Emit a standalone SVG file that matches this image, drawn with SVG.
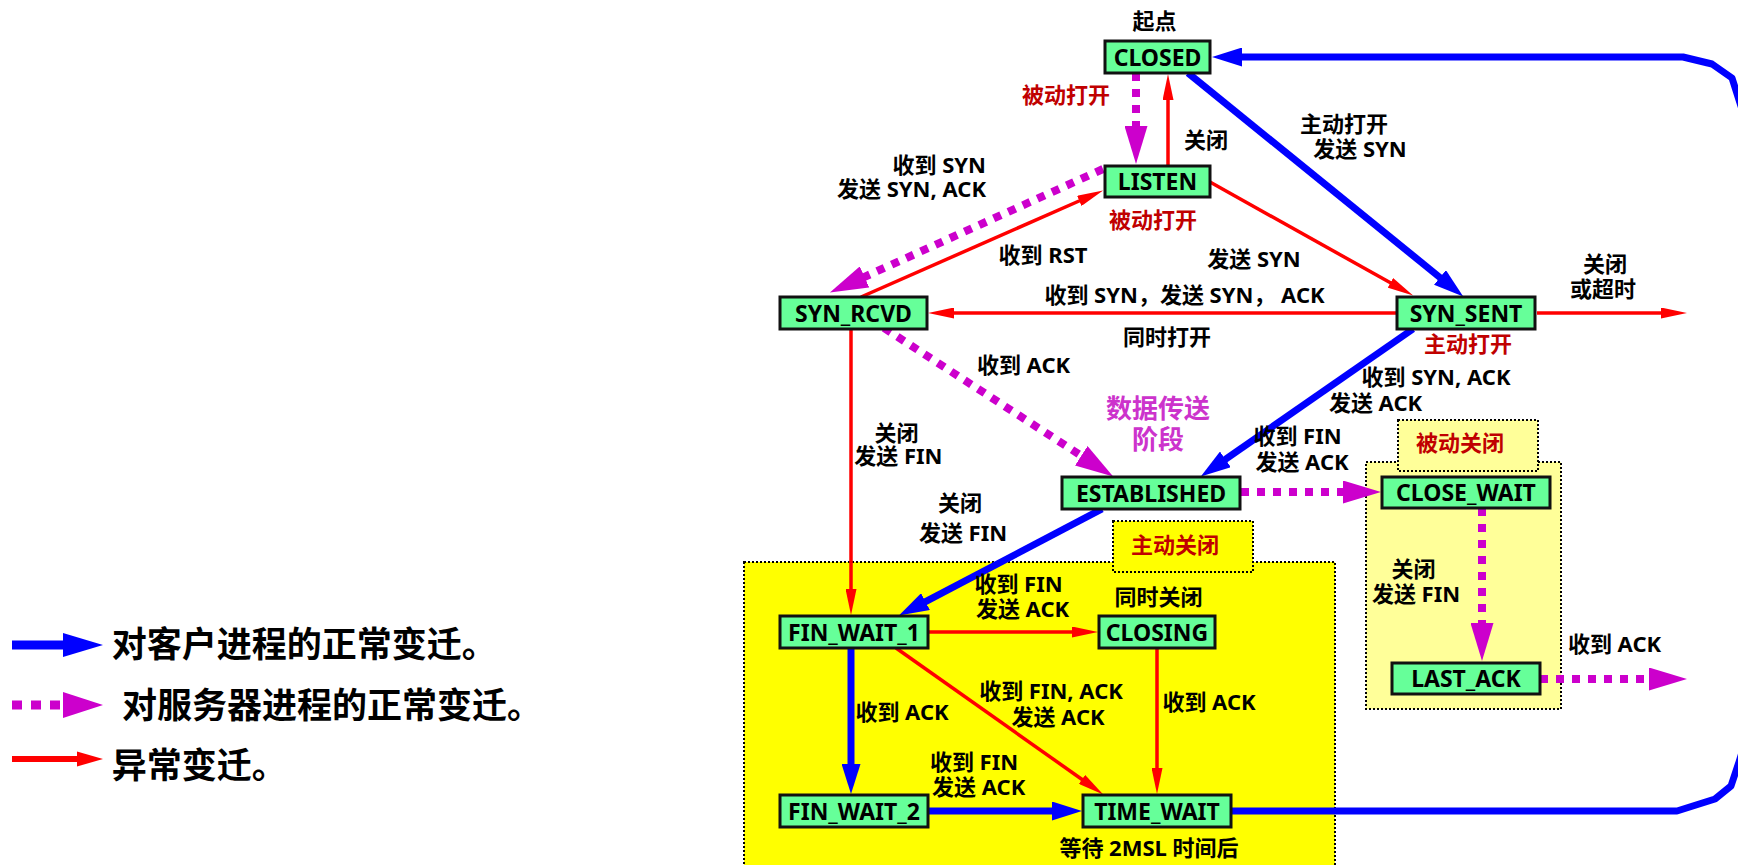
<svg xmlns="http://www.w3.org/2000/svg" width="1738" height="865" viewBox="0 0 1738 865">
<style>
.node rect{fill:#66FF99;stroke:#111;stroke-width:3}
.node text{font-family:"Noto Sans","Noto Sans CJK SC",sans-serif;font-weight:bold;font-size:23px;fill:#000;text-anchor:middle}
.lbl{font-family:"Noto Sans","Noto Sans CJK SC",sans-serif;font-weight:bold;font-size:22px;fill:#000;text-anchor:middle}
.end{text-anchor:end}
.red{fill:#C00000}
.mag{fill:#CC33CC;font-size:26px}
.leg{font-family:"Noto Sans","Noto Sans CJK SC",sans-serif;font-weight:bold;font-size:35px;fill:#000}
.region{stroke:#000;stroke-width:2;stroke-dasharray:2 2}
.blue{fill:none;stroke:#0000FF;stroke-width:7;marker-end:url(#ah-blue)}
.magl{fill:none;stroke:#CC00CC;stroke-width:8;stroke-dasharray:8 8;marker-end:url(#ah-mag)}
.redl{fill:none;stroke:#FF0000;stroke-width:3.5;marker-end:url(#ah-red)}
</style>
<defs>
<marker id="ah-blue" markerUnits="userSpaceOnUse" markerWidth="30" markerHeight="19" viewBox="0 0 30 19" refX="1" refY="9.5" orient="auto"><path d="M0,0 L30,9.5 L0,19 z" fill="#0000FF"/></marker>
<marker id="ah-mag" markerUnits="userSpaceOnUse" markerWidth="38" markerHeight="23" viewBox="0 0 38 23" refX="1" refY="11.5" orient="auto"><path d="M0,0 L38,11.5 L0,23 z" fill="#CC00CC"/></marker>
<marker id="ah-red" markerUnits="userSpaceOnUse" markerWidth="26" markerHeight="11" viewBox="0 0 26 11" refX="1" refY="5.5" orient="auto"><path d="M0,0 L26,5.5 L0,11 z" fill="#FF0000"/></marker>
</defs>
<rect width="1738" height="865" fill="#fff"/>

<g id="regions">
<rect class="region" x="744" y="562" width="591" height="320" fill="#FFFF00"/>
<rect class="region" x="1113" y="521" width="140" height="51" fill="#FFFF00"/>
<rect class="region" x="1366" y="462" width="195" height="247" fill="#FFFF99"/>
<rect class="region" x="1398" y="420" width="140" height="51" fill="#FFFF99"/>
</g>

<g id="connectors">
<line class="blue" x1="1188" y1="73" x2="1440.7" y2="278.1"/>
<line class="blue" x1="1413" y1="329" x2="1224.6" y2="459.9"/>
<line class="blue" x1="1102" y1="509" x2="924.6" y2="602.1"/>
<line class="blue" x1="851" y1="648" x2="851" y2="765"/>
<line class="blue" x1="928" y1="811" x2="1053" y2="811"/>
<path class="blue" stroke-width="6.5" stroke-linejoin="round" d="M1231,811 H1677 L1715,799 L1731,786 L1739,762 L1752,720 V140 L1739,100 L1732,78 L1712,64 L1683,57 H1241"/>
<line class="magl" x1="1136" y1="73" x2="1136" y2="127"/>
<line class="magl" x1="1103" y1="169" x2="863.6" y2="277.3"/>
<line class="magl" x1="884" y1="328" x2="1082.1" y2="456.3"/>
<line class="magl" x1="1241" y1="492" x2="1344" y2="492"/>
<line class="magl" x1="1482" y1="508" x2="1482" y2="624"/>
<line class="magl" x1="1540" y1="679" x2="1650" y2="679"/>
<line class="redl" x1="1168" y1="166" x2="1168" y2="99"/>
<line class="redl" x1="1210" y1="182" x2="1391.3" y2="283.3"/>
<line class="redl" x1="861" y1="297" x2="1080.2" y2="200.5"/>
<line class="redl" x1="1397" y1="313" x2="953" y2="313"/>
<line class="redl" x1="1537" y1="313" x2="1662" y2="313"/>
<line class="redl" x1="851" y1="329" x2="851" y2="590"/>
<line class="redl" x1="928" y1="632" x2="1073" y2="632"/>
<line class="redl" x1="896" y1="648" x2="1082.8" y2="780"/>
<line class="redl" x1="1157" y1="648" x2="1157" y2="769"/>
</g>

<g id="n-closed" class="node"><rect x="1105" y="41" width="105" height="32"/><text x="1157.5" y="65.5">CLOSED</text></g>
<g id="n-listen" class="node"><rect x="1105" y="166" width="105" height="31"/><text x="1157.5" y="190">LISTEN</text></g>
<g id="n-syn-sent" class="node"><rect x="1397" y="297" width="138" height="32"/><text x="1466" y="321.5">SYN_SENT</text></g>
<g id="n-syn-rcvd" class="node"><rect x="780" y="297" width="147" height="32"/><text x="853.5" y="321.5">SYN_RCVD</text></g>
<g id="n-established" class="node"><rect x="1062" y="477" width="178" height="32"/><text x="1151" y="501.5">ESTABLISHED</text></g>
<g id="n-close-wait" class="node"><rect x="1382" y="477" width="168" height="31"/><text x="1466" y="501">CLOSE_WAIT</text></g>
<g id="n-last-ack" class="node"><rect x="1392" y="663" width="148" height="31"/><text x="1466" y="687">LAST_ACK</text></g>
<g id="n-fin-wait-1" class="node"><rect x="780" y="616" width="148" height="32"/><text x="854" y="640.5">FIN_WAIT_1</text></g>
<g id="n-closing" class="node"><rect x="1099" y="616" width="116" height="32"/><text x="1157" y="640.5">CLOSING</text></g>
<g id="n-fin-wait-2" class="node"><rect x="780" y="795" width="148" height="32"/><text x="854" y="819.5">FIN_WAIT_2</text></g>
<g id="n-time-wait" class="node"><rect x="1083" y="795" width="148" height="32"/><text x="1157" y="819.5">TIME_WAIT</text></g>

<g id="labels">
<text class="lbl" x="1154.5" y="29">起点</text>
<text class="lbl red" x="1066" y="102.5">被动打开</text>
<text class="lbl" x="1206" y="148">关闭</text>
<text class="lbl" x="1344" y="131.5">主动打开</text>
<text class="lbl" x="1360" y="157">发送 SYN</text>
<text class="lbl red" x="1153" y="228">被动打开</text>
<text class="lbl end" x="986" y="173">收到 SYN</text>
<text class="lbl end" x="986" y="197">发送 SYN, ACK</text>
<text class="lbl" x="1043" y="263">收到 RST</text>
<text class="lbl" x="1254" y="267">发送 SYN</text>
<text class="lbl" x="1184.5" y="303">收到 SYN，发送 SYN， ACK</text>
<text class="lbl" x="1605" y="272">关闭</text>
<text class="lbl" x="1603" y="297">或超时</text>
<text class="lbl" x="1167" y="345">同时打开</text>
<text class="lbl red" x="1468" y="352">主动打开</text>
<text class="lbl" x="1436" y="385">收到 SYN, ACK</text>
<text class="lbl" x="1375.5" y="411">发送 ACK</text>
<text class="lbl" x="1023.5" y="373">收到 ACK</text>
<text class="lbl mag" x="1158" y="418">数据传送</text>
<text class="lbl mag" x="1158" y="449">阶段</text>
<text class="lbl" x="896.5" y="441">关闭</text>
<text class="lbl" x="898.3" y="464">发送 FIN</text>
<text class="lbl" x="1297.5" y="444">收到 FIN</text>
<text class="lbl" x="1302" y="470">发送 ACK</text>
<text class="lbl red" x="1460" y="451">被动关闭</text>
<text class="lbl" x="960" y="511">关闭</text>
<text class="lbl" x="963" y="541">发送 FIN</text>
<text class="lbl red" x="1175" y="553">主动关闭</text>
<text class="lbl" x="1018.5" y="592">收到 FIN</text>
<text class="lbl" x="1022.5" y="617">发送 ACK</text>
<text class="lbl" x="1158.6" y="605">同时关闭</text>
<text class="lbl" x="902" y="720">收到 ACK</text>
<text class="lbl" x="1051" y="699">收到 FIN, ACK</text>
<text class="lbl" x="1058" y="725">发送 ACK</text>
<text class="lbl" x="1209" y="710">收到 ACK</text>
<text class="lbl" x="974" y="770">收到 FIN</text>
<text class="lbl" x="978.7" y="795">发送 ACK</text>
<text class="lbl" x="1149" y="856">等待 2MSL 时间后</text>
<text class="lbl" x="1413.5" y="577">关闭</text>
<text class="lbl" x="1416" y="602">发送 FIN</text>
<text class="lbl" x="1614.5" y="652">收到 ACK</text>
</g>

<g id="legend">
<line x1="12" y1="645" x2="64" y2="645" stroke="#0000FF" stroke-width="9"/>
<path d="M63,633 L103,645 L63,657 z" fill="#0000FF"/>
<line x1="12" y1="705" x2="62" y2="705" stroke="#CC00CC" stroke-width="9" stroke-dasharray="10 9"/>
<path d="M63,692 L103,705 L63,718 z" fill="#CC00CC"/>
<line x1="12" y1="759" x2="78" y2="759" stroke="#FF0000" stroke-width="6"/>
<path d="M77,751.5 L103,759 L77,766.5 z" fill="#FF0000"/>
<text class="leg" x="111.7" y="657">对客户进程的正常变迁。</text>
<text class="leg" x="122" y="718">对服务器进程的正常变迁。</text>
<text class="leg" x="111.7" y="778">异常变迁。</text>
</g>
</svg>
